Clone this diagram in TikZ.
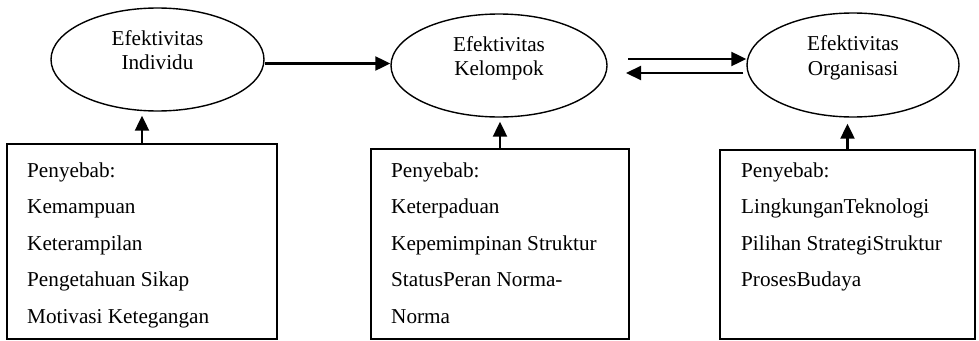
\documentclass[tikz,border=0pt]{standalone}
\usepackage{fontspec}
\setmainfont{Liberation Serif}
\usepackage{xcolor}
\usepackage{tikz}
\usetikzlibrary{calc,arrows.meta,shapes.geometric}
\definecolor{ink}{HTML}{000000}
\definecolor{paper}{HTML}{FFFFFF}
\tikzset{
  goal/.style={draw=ink, ellipse, line width=1.4pt, inner sep=0pt, align=center,
    font=\fontsize{21.2}{24.5}\selectfont},
  cause/.style={draw=ink, rectangle, line width=1.6pt, inner sep=0pt},
  lst/.style={anchor=north west, inner sep=0pt, align=left, text=ink,
    font=\fontsize{21.2}{36.5}\selectfont},
  arr/.style={draw=ink, line width=2.2pt, -{Triangle[length=15pt,width=14pt]}}
}

\begin{document}
\begin{tikzpicture}[x=1pt,y=-1pt]
  \useasboundingbox[fill=paper] (0,0) rectangle (979,340);

  % the three levels
  \node[goal, minimum width=213pt, minimum height=103pt] (E1) at (157.5,59.5) {Efektivitas\\Individu\\[-6pt]};
  \node[goal, minimum width=216pt, minimum height=103pt] (E2) at (499,65.5) {Efektivitas\\Kelompok\\[-6pt]};
  \node[goal, minimum width=212pt, minimum height=104pt] (E3) at (853,65) {Efektivitas\\Organisasi\\[-6pt]};

  % causes
  \node[cause, minimum width=270pt, minimum height=195pt] (B1) at (142,241.5) {};
  \node[cause, minimum width=258pt, minimum height=190pt] (B2) at (500,244) {};
  \node[cause, minimum width=255pt, minimum height=189pt] (B3) at (847.5,244.5) {};

  \node[lst] (T1) at (27,162.5) {Penyebab:\\Kemampuan\\Keterampilan\\Pengetahuan Sikap\\Motivasi Ketegangan};
  \node[lst] (T2) at (391,162.5) {Penyebab:\\Keterpaduan\\Kepemimpinan Struktur\\StatusPeran Norma-\\Norma};
  \node[lst] (T3) at (741,162.5) {Penyebab:\\LingkunganTeknologi\\Pilihan StrategiStruktur\\ProsesBudaya};

  % connectors
  \draw[arr] ($(E1.east)+(0,4)$) -- ($(E2.west)+(0,-2)$);
  \coordinate (p1) at (628,59);
  \coordinate (p2) at (626,73);
  \draw[arr] (p1) -- (p1 -| E3.west);
  \draw[arr] ($(E3.west |- p2)+(-3,0)$) -- (p2);

  \draw[arr, shorten >=4pt] (B1.north) -- (B1.north |- E1.south);
  \draw[arr, shorten >=4pt] (B2.north) -- (B2.north |- E2.south);
  \draw[arr, shorten >=6pt] (B3.north) -- (B3.north |- E3.south);
\end{tikzpicture}
\end{document}
